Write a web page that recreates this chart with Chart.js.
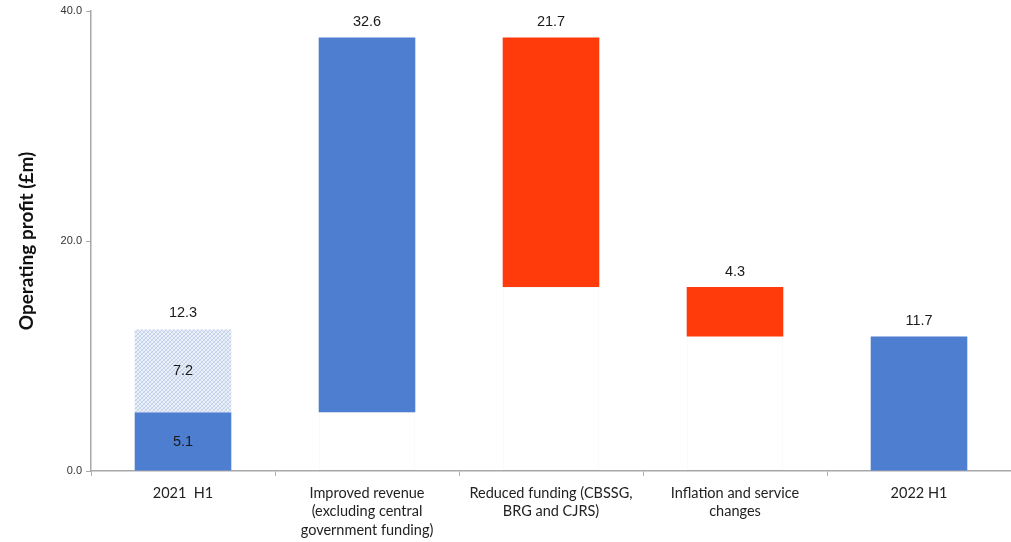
<!DOCTYPE html>
<html>
<head>
<meta charset="utf-8">
<script src="https://cdn.jsdelivr.net/npm/chart.js@4.4.1/dist/chart.umd.min.js"></script>
<style>
  html, body { margin: 0; padding: 0; background: #fff; }
  #wrap { width: 1011px; height: 542px; position: relative; }
</style>
</head>
<body>
<div id="wrap"><canvas id="ChartBridge"></canvas></div>
<script>
// categories (multi-line labels)
const categories = [
    ['2021  H1'],
    ['Improved revenue', '(excluding central', 'government funding)'],
    ['Reduced funding (CBSSG,', 'BRG and CJRS)'],
    ['Inflation and service', 'changes'],
    ['2022 H1']
];

// opening profit split: underlying part + one-off part
const openingUnderlying = 5.1;
const openingOneOff = 7.2;
const openingTotal = 12.3;
// movements from the underlying opening figure
const movements = [32.6, -21.7, -4.3];
const closingTotal = 11.7;

const yTicks = [0, 20, 40];

const BLUE = '#4e7ed0';
const RED = '#ff3b0b';

// crosshatch fill for the one-off part
const makeHatch = () => {
    const c = document.createElement('canvas');
    c.width = 4; c.height = 4;
    const g = c.getContext('2d');
    g.fillStyle = '#eaeff8';
    g.fillRect(0, 0, 4, 4);
    g.strokeStyle = 'rgba(130,160,215,0.6)';
    g.lineWidth = 0.7;
    g.beginPath();
    g.moveTo(0, 4); g.lineTo(4, 0);
    g.moveTo(-1, 1); g.lineTo(1, -1);
    g.moveTo(3, 5); g.lineTo(5, 3);
    g.stroke();
    g.strokeStyle = 'rgba(130,160,215,0.3)';
    g.beginPath();
    g.moveTo(0, 0); g.lineTo(4, 4);
    g.stroke();
    return document.getElementById('ChartBridge').getContext('2d').createPattern(c, 'repeat');
};

// build floating ranges
const ranges = [];
const colors = [];
const labelsTop = [];
let level = openingUnderlying;
ranges.push([0, openingUnderlying]);
colors.push(BLUE);
labelsTop.push(null);
movements.forEach(m => {
    const next = +(level + m).toFixed(1);
    ranges.push([Math.min(level, next), Math.max(level, next)]);
    colors.push(m >= 0 ? BLUE : RED);
    labelsTop.push(Math.abs(m).toFixed(1));
    level = next;
});
ranges.push([0, closingTotal]);
colors.push(BLUE);
labelsTop.push(closingTotal.toFixed(1));

const oneOffRange = [[openingUnderlying, openingUnderlying + openingOneOff], null, null, null, null];
const spacers = ranges.map((r, i) => (i === 0 || i === ranges.length - 1) ? null : [0, r[0]]);

const valueLabels = {
    id: 'valueLabels',
    afterDatasetsDraw(chart) {
        const ctx = chart.ctx;
        const y = chart.scales.y;
        const mainMeta = chart.getDatasetMeta(2);
        ctx.save();
        ctx.font = '14.5px "Liberation Sans", Arial, sans-serif';
        ctx.fillStyle = '#1a1a1a';
        ctx.textAlign = 'center';
        ctx.textBaseline = 'middle';
        mainMeta.data.forEach((bar, i) => {
            const top = Math.max(ranges[i][0], ranges[i][1]);
            if (i === 0) {
                ctx.fillText(openingUnderlying.toFixed(1), bar.x, y.getPixelForValue(openingUnderlying / 2));
                ctx.fillText(openingOneOff.toFixed(1), bar.x, y.getPixelForValue(openingUnderlying + openingOneOff / 2));
                ctx.fillText(openingTotal.toFixed(1), bar.x, y.getPixelForValue(openingTotal) - 17);
            } else {
                ctx.fillText(labelsTop[i], bar.x, y.getPixelForValue(top) - 15);
            }
        });
        ctx.restore();
    }
};

const canvas = document.getElementById('ChartBridge');
const ctx = canvas.getContext('2d');

const chartBridge = new Chart(ctx, {
    type: 'bar',
    data: {
        labels: categories,
        datasets: [
            {
                label: 'spacer',
                data: spacers,
                backgroundColor: 'rgba(255,255,255,0)',
                borderColor: 'rgba(0,0,0,0.03)',
                borderWidth: 1,
                borderSkipped: false
            },
            {
                label: 'One-off',
                data: oneOffRange,
                backgroundColor: makeHatch(),
                borderWidth: 0
            },
            {
                label: 'Operating profit',
                data: ranges,
                backgroundColor: colors,
                borderWidth: 0
            }
        ]
    },
    options: {
        responsive: true,
        maintainAspectRatio: false,
        animation: false,
        layout: { padding: { top: 11, right: 0, bottom: 0, left: 0 } },
        datasets: {
            bar: { categoryPercentage: 1, barPercentage: 0.525, skipNull: true }
        },
        plugins: {
            legend: { display: false },
            tooltip: { enabled: false }
        },
        scales: {
            x: {
                stacked: true,
                afterFit: s => { s.height = 71; },
                grid: {
                    offset: true,
                    drawOnChartArea: false,
                    tickLength: 5,
                    color: '#b0b0b0'
                },
                border: { color: '#a8a8a8', width: 1.5 },
                ticks: {
                    padding: 8,
                    color: '#222',
                    maxRotation: 0,
                    autoSkip: false,
                    font: { family: 'Lato, "Open Sans", sans-serif', size: 14.5, lineHeight: 1.27 }
                }
            },
            y: {
                stacked: false,
                min: 0,
                max: 40,
                afterFit: s => { s.width = 91; },
                afterBuildTicks: s => { s.ticks = yTicks.map(v => ({ value: v })); },
                grid: {
                    drawOnChartArea: false,
                    tickLength: 5,
                    color: '#a8a8a8'
                },
                border: { color: '#a8a8a8', width: 1.5 },
                ticks: {
                    padding: 4,
                    color: '#333',
                    font: { family: '"Liberation Sans", Arial, sans-serif', size: 11 },
                    callback: v => Number(v).toFixed(1)
                },
                title: {
                    display: true,
                    text: 'Operating profit (£m)',
                    color: '#111',
                    padding: { top: 15, bottom: 0 },
                    font: { family: 'Lato, "Open Sans", sans-serif', size: 19, weight: 'bold' }
                }
            }
        }
    },
    plugins: [valueLabels]
});
</script>
</body>
</html>
